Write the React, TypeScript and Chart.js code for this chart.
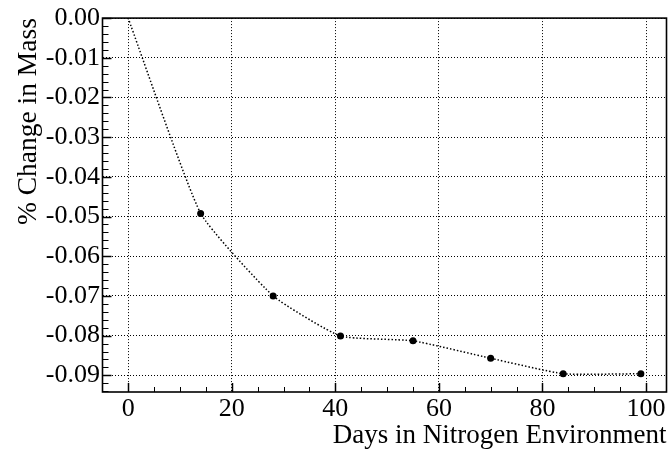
import React, { useEffect, useRef } from 'react';
import { Chart, registerables } from 'chart.js';

Chart.register(...registerables);

const days = [0, 14, 28, 41, 55, 70, 84, 99];
const massChange = [0, -0.0492, -0.07, -0.0801, -0.0813, -0.0857, -0.0896, -0.0896];
const pointSizes = [0, 3.5, 3.5, 3.5, 3.5, 3.5, 3.5, 3.5];
const xMajorTicks = [0, 20, 40, 60, 80, 100];
const xTickLabels = ['0', '20', '40', '60', '80', '100'];
const yMajorTicks = [0, -0.01, -0.02, -0.03, -0.04, -0.05, -0.06, -0.07, -0.08, -0.09];
const yTickLabels = ['0.00', '-0.01', '-0.02', '-0.03', '-0.04', '-0.05', '-0.06', '-0.07', '-0.08', '-0.09'];
const xMinorStep = 5;
const yMinorStep = 0.002;
const xRange = [-4.95, 103.95];
const yRange = [-0.0942, 0];
const xTitle = 'Days in Nitrogen Environment';
const yTitle = '% Change in Mass';

const FONT = '"Liberation Serif", "DejaVu Serif", serif';

const framePlugin = {
  id: 'rootFrame',
  afterDraw(chart: any) {
    const { ctx, chartArea: a, scales } = chart;
    const xs = scales.x;
    const ys = scales.y;
    ctx.save();
    ctx.strokeStyle = '#000';
    ctx.setLineDash([]);
    const majorLen = 9;
    const minorLen = 5;
    for (let v = Math.ceil(xRange[0] / xMinorStep) * xMinorStep; v <= xRange[1] + 1e-9; v += xMinorStep) {
      const px = Math.round(xs.getPixelForValue(v)) + 0.5;
      const major = xMajorTicks.some((t) => Math.abs(t - v) < 1e-9);
      ctx.lineWidth = major ? 1.5 : 1;
      ctx.beginPath();
      ctx.moveTo(px, a.bottom);
      ctx.lineTo(px, a.bottom - (major ? majorLen : minorLen));
      ctx.stroke();
    }
    const n0 = Math.ceil(yRange[0] / yMinorStep - 1e-6);
    const n1 = Math.floor(yRange[1] / yMinorStep + 1e-6);
    for (let n = n0; n <= n1; n++) {
      const v = n * yMinorStep;
      const py = Math.round(ys.getPixelForValue(v)) + 0.5;
      const major = yMajorTicks.some((t) => Math.abs(t - v) < 1e-9);
      ctx.lineWidth = major ? 1.5 : 1;
      ctx.beginPath();
      ctx.moveTo(a.left, py);
      ctx.lineTo(a.left + (major ? majorLen : minorLen + 1), py);
      ctx.stroke();
    }
    ctx.lineWidth = 1.6;
    ctx.strokeRect(a.left, a.top, a.right - a.left, a.bottom - a.top);
    ctx.restore();
  },
};

export default function App() {
  const ref = useRef<HTMLCanvasElement | null>(null);
  useEffect(() => {
    document.body.style.margin = '0';
    const canvas = ref.current;
    if (!canvas) return;
    const chart = new Chart(canvas, {
      type: 'line',
      data: {
        datasets: [
          {
            data: days.map((d, i) => ({ x: d, y: massChange[i] })),
            borderColor: '#000',
            backgroundColor: '#000',
            borderWidth: 1.5,
            borderDash: [1.5, 2],
            pointRadius: pointSizes,
            pointHoverRadius: pointSizes,
            pointBorderWidth: 0,
            tension: 0.15,
            fill: false,
          },
        ],
      },
      options: {
        responsive: false,
        animation: false,
        events: [],
        layout: { padding: { top: 17, right: 2, left: 0, bottom: 0 } },
        plugins: { legend: { display: false }, tooltip: { enabled: false } },
        scales: {
          x: {
            type: 'linear',
            min: xRange[0],
            max: xRange[1],
            afterBuildTicks: (s: any) => {
              s.ticks = xMajorTicks.map((v) => ({ value: v }));
            },
            afterFit: (s: any) => {
              s.height = 60;
            },
            grid: { color: '#000', lineWidth: 1, drawTicks: false },
            border: { display: false, dash: [1, 2] },
            ticks: {
              autoSkip: false,
              maxRotation: 0,
              padding: 2,
              color: '#000',
              font: { family: FONT, size: 26 },
              callback: (_v: any, i: number) => xTickLabels[i],
            },
            title: {
              display: true,
              text: xTitle,
              align: 'end',
              color: '#000',
              font: { family: FONT, size: 27 },
              padding: { top: 0, bottom: 0 },
            },
          },
          y: {
            type: 'linear',
            min: yRange[0],
            max: yRange[1],
            afterBuildTicks: (s: any) => {
              s.ticks = yMajorTicks.map((v) => ({ value: v }));
            },
            afterFit: (s: any) => {
              s.width = 102.5;
            },
            grid: { color: '#000', lineWidth: 1, drawTicks: false },
            border: { display: false, dash: [1, 2] },
            ticks: {
              autoSkip: false,
              padding: 2.5,
              color: '#000',
              font: { family: FONT, size: 26 },
              callback: (_v: any, i: number) => yTickLabels[i],
            },
            title: {
              display: true,
              text: yTitle,
              align: 'end',
              color: '#000',
              font: { family: FONT, size: 27.5 },
              padding: { top: 12, bottom: 0 },
            },
          },
        },
      },
      plugins: [framePlugin],
    } as any);
    return () => chart.destroy();
  }, []);
  return <canvas ref={ref} width={670} height={452} style={{ display: 'block' }} />;
}
